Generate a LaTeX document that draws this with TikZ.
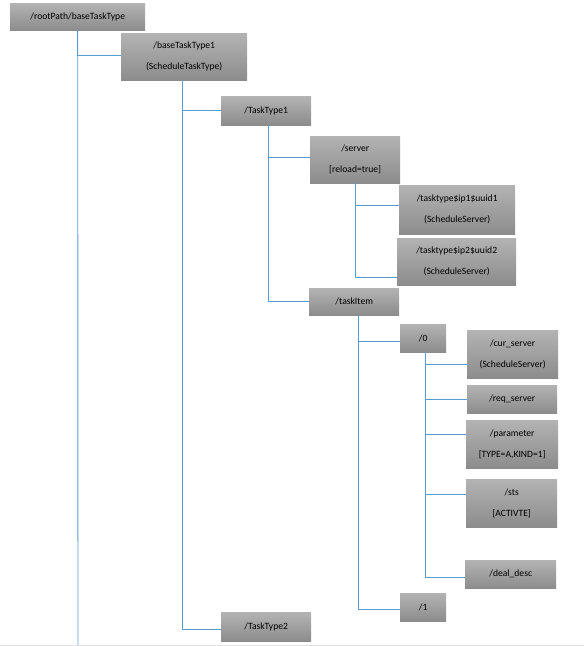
\documentclass[tikz,border=0pt]{standalone}
\usepackage{fontspec}
\setmainfont{Carlito}
\usepackage{xcolor}
\usetikzlibrary{positioning,calc}
\definecolor{boxtop}{HTML}{B3B3B3}
\definecolor{boxbot}{HTML}{8C8C8C}
\definecolor{linkblue}{HTML}{5B9BD5}
\tikzset{
  box/.style  ={anchor=north west, align=center, inner sep=0pt, top color=boxtop, bottom color=boxbot,
                text=black, font=\fontsize{9.6}{21}\selectfont},
  link/.style ={draw=linkblue, line width=0.9pt},
}
\begin{document}
\begin{tikzpicture}[x=1pt, y=-1pt]
  \useasboundingbox (0,0) rectangle (584,646);
  % --- boxes ---
  \node[box, minimum width=135, minimum height=27] (root) at (10,3)   {/rootPath/baseTaskType};
  \node[box, minimum width=126, minimum height=47] (btt1) at (121,33) {/baseTaskType1\\(ScheduleTaskType)};
  \node[box, minimum width=90,  minimum height=29] (tt1)  at (221,96) {/TaskType1};
  \node[box, minimum width=90,  minimum height=47] (srv)  at (310,136) {/server\\{[reload=true]}};
  \node[box, minimum width=116, minimum height=49] (srv1) at (399,185) {/tasktype\$ip1\$uuid1\\(ScheduleServer)};
  \node[box, minimum width=119, minimum height=47] (srv2) at (397,238) {/tasktype\$ip2\$uuid2\\(ScheduleServer)};
  \node[box, minimum width=90,  minimum height=27] (item) at (309,288) {/taskItem};
  \node[box, minimum width=46,  minimum height=28] (i0)   at (400,324) {/0};
  \node[box, minimum width=91,  minimum height=48] (cur)  at (467,330) {/cur\_server\\(ScheduleServer)};
  \node[box, minimum width=90,  minimum height=28] (req)  at (467,385) {/req\_server};
  \node[box, minimum width=92,  minimum height=48] (par)  at (466,420) {/parameter\\{[TYPE=A,KIND=1]}};
  \node[box, minimum width=91,  minimum height=48] (sts)  at (466,479) {/sts\\{[ACTIVTE]}};
  \node[box, minimum width=91,  minimum height=28] (deal) at (465,560) {/deal\_desc};
  \node[box, minimum width=46,  minimum height=28] (i1)   at (400,593) {/1};
  \node[box, minimum width=90,  minimum height=29] (tt2)  at (221,612) {/TaskType2};
  % --- tree links ---
  \coordinate (rootend) at (78,645);
  \draw[link] (root.south) -- (rootend);
  \draw[link] (root.south) |- ([yshift=1.5]btt1.west);
  \draw[link] ([xshift=-2]btt1.south) |- (tt1.west);
  \draw[link] ([xshift=-2]btt1.south) |- ([yshift=-2.5]tt2.west);
  \draw[link] ([xshift=2]tt1.south) |- ([yshift=2.5]srv.west);
  \draw[link] ([xshift=2]tt1.south) |- (item.west);
  \draw[link] (srv.south) |- ([yshift=4.5]srv1.west);
  \draw[link] (srv.south) |- ([yshift=-15.5]srv2.west);
  \draw[link] ([xshift=4]item.south) |- ([yshift=-3]i0.west);
  \draw[link] ([xshift=4]item.south) |- ([yshift=-2]i1.west);
  \draw[link] ([xshift=2]i0.south) |- ([yshift=-10]cur.west);
  \draw[link] ([xshift=2]i0.south) |- (req.west);
  \draw[link] ([xshift=2]i0.south) |- ([yshift=10]par.west);
  \draw[link] ([xshift=2]i0.south) |- ([yshift=9]sts.west);
  \draw[link] ([xshift=2]i0.south) |- ([yshift=-3]deal.west);
  % --- page edge ---
  \draw[black!12, line width=1pt] (0,645) -- (584,645);
\end{tikzpicture}
\end{document}
